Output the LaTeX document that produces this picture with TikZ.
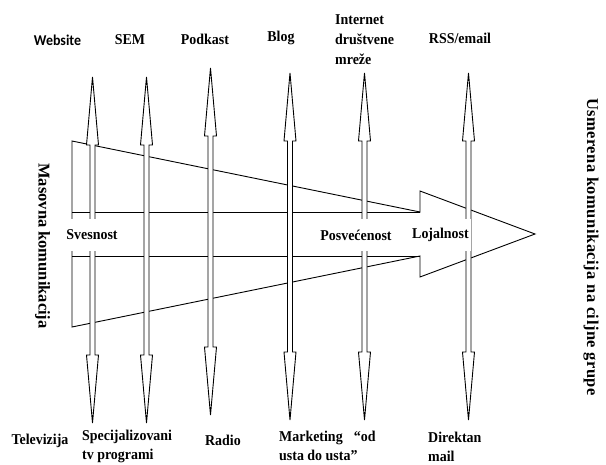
\documentclass[tikz,border=0pt]{standalone}
\usepackage{fontspec}
\setmainfont{Liberation Serif}
\newfontfamily\websitefont{Carlito}
\newfontfamily\spacedserif[LetterSpace=3]{Liberation Serif}
\usetikzlibrary{positioning}

\begin{document}
\begin{tikzpicture}[
    x=1pt, y=-1pt,
    outline/.style={draw, line width=0.9pt},
    channel/.style={draw, line width=0.9pt, fill=white},
    lbl/.style={font=\bfseries\fontsize{15}{20}\selectfont, xscale=0.93, inner sep=0pt},
    mlbl/.style={lbl, align=left, anchor=west},
    blbl/.style={mlbl, font=\bfseries\fontsize{15}{18.5}\selectfont},
    stage/.style={lbl, fill=white, inner xsep=2pt, minimum height=32pt},
    vlbl/.style={font=\bfseries\fontsize{16.5}{18}\selectfont, rotate=-90, inner sep=0pt}
]
\useasboundingbox (0,0) rectangle (606,464);

% big arrow from mass to targeted communication
\draw[outline] (72,141) -- (420,212) -- (420,191) -- (535,234) -- (420,277)
    -- (420,256) -- (72,327) -- cycle;
\draw[outline] (72,212) -- (420,212);
\draw[outline] (72,256) -- (420,256);

% channels, both ways
\foreach \cx/\tp/\bt in {92.5/77/423, 146.5/77/423, 210.5/68/415,
                         290/73/420, 364.5/73/420, 468.5/73/420}
  \draw[channel] (\cx,\tp) -- ++(6,68) -- ++(-3.5,0) -- (\cx+2.5,\bt-68)
    -- ++(3.5,0) -- (\cx,\bt) -- ++(-6,-68) -- ++(3.5,0)
    -- (\cx-2.5,\tp+68) -- ++(-3.5,0) -- cycle;

% stages
\node[stage] (svesnost) at (92,235) {Svesnost};
\node[stage] (posvecenost) at (356,235) {Posvećenost};
\node[stage] (lojalnost) at (440.5,235) {Lojalnost};

% online channels
\node[lbl, font=\websitefont\bfseries\fontsize{15}{20}\selectfont] (website) at (57.5,40) {Website};
\node[lbl] (sem) at (130,40) {SEM};
\node[lbl] (podkast) at (205,39) {Podkast};
\node[lbl] (blog) at (281,38) {Blog};
\node[mlbl] (mreze) at (335,40) {Internet\\društvene\\mreže};
\node[lbl] (rss) at (460,38) {RSS/email};

% offline channels
\node[lbl] (tv) at (40,441) {Televizija};
\node[blbl] (spec) at (82,446.5) {Specijalizovani\\tv programi};
\node[lbl] (radio) at (223,440) {Radio};
\node[blbl] (usta) at (279,446) {Marketing\hspace{12pt}“od\\usta do usta”};
\node[blbl] (mail) at (428,447) {Direktan\\mail};

% ends of the scale
\node[vlbl] (masovna) at (42.5,246) {Masovna komunikacija};
\node[vlbl, font=\spacedserif\bfseries\fontsize{16.5}{18}\selectfont] (usmerena) at (591,247) {Usmerena komunikacija na ciljne grupe};
\end{tikzpicture}
\end{document}
